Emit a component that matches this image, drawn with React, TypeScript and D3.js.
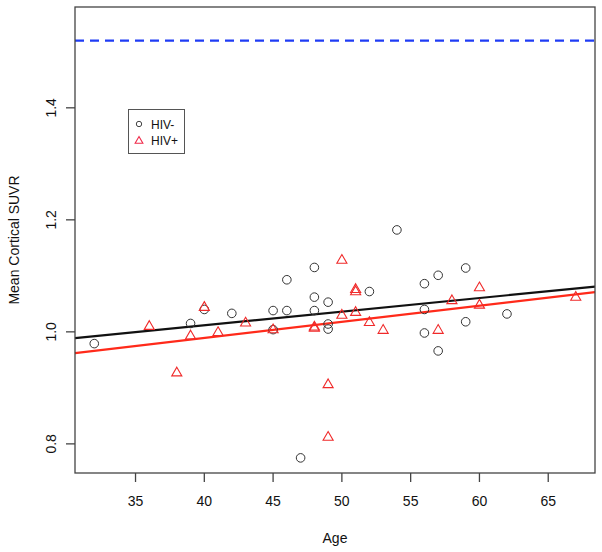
import React, { useEffect, useRef } from 'react';
import * as d3 from 'd3';

// HIV- (circles)
const negAge = [32, 39, 40, 42, 45, 45, 46, 46, 47, 48, 48, 48, 49, 49, 49, 52, 54, 56, 56, 56, 57, 57, 59, 59, 62];
const negSuvr = [0.979, 1.015, 1.040, 1.033, 1.038, 1.004, 1.038, 1.093, 0.775, 1.115, 1.062, 1.038, 1.053, 1.014, 1.005, 1.072, 1.182, 1.086, 1.040, 0.998, 1.101, 0.966, 1.114, 1.018, 1.032];

// HIV+ (triangles)
const posAge = [36, 38, 39, 40, 41, 43, 45, 48, 48, 49, 49, 50, 50, 51, 51, 51, 52, 53, 57, 58, 60, 60, 67];
const posSuvr = [1.011, 0.928, 0.994, 1.045, 1.000, 1.017, 1.005, 1.008, 1.010, 0.907, 0.813, 1.129, 1.031, 1.073, 1.077, 1.036, 1.018, 1.004, 1.004, 1.057, 1.080, 1.049, 1.063];

// regression fits [intercept, slope]
const fitNeg = [0.9142, 0.002437];
const fitPos = [0.8739, 0.00288];

const threshold = 1.52;

const xTicks = [35, 40, 45, 50, 55, 60, 65];
const yTicks = [0.8, 1.0, 1.2, 1.4];
const legendLabels = ['HIV-', 'HIV+'];

const W = 602;
const H = 552;
const font = 'Liberation Sans, Arial, sans-serif';

const App = () => {
  const svgRef = useRef(null);

  useEffect(() => {
    const margin = { top: 7, right: 7, bottom: 79, left: 75 };
    const svg = d3.select(svgRef.current);
    svg.selectAll('*').remove();

    const x = d3.scaleLinear().domain([30.6, 68.4]).range([margin.left, W - margin.right]);
    const y = d3.scaleLinear().domain([0.748, 1.58]).range([H - margin.bottom, margin.top]);
    const [x0, x1] = x.range();
    const [yb, yt] = y.range();

    // threshold
    svg.append('line')
      .attr('x1', x0).attr('x2', x1)
      .attr('y1', y(threshold)).attr('y2', y(threshold))
      .attr('stroke', '#1f3cf5').attr('stroke-width', 2.2)
      .attr('stroke-dasharray', '9,6');

    // fit lines
    const fits = [
      { f: fitNeg, color: '#111' },
      { f: fitPos, color: '#ff2a1a' },
    ];
    fits.forEach(({ f, color }) => {
      const [a, b] = x.domain();
      svg.append('line')
        .attr('x1', x(a)).attr('y1', y(f[0] + f[1] * a))
        .attr('x2', x(b)).attr('y2', y(f[0] + f[1] * b))
        .attr('stroke', color).attr('stroke-width', 2.2);
    });

    // points
    svg.append('g').selectAll('circle')
      .data(negAge)
      .enter()
      .append('circle')
      .attr('cx', (d) => x(d))
      .attr('cy', (d, i) => y(negSuvr[i]))
      .attr('r', 4.3)
      .attr('fill', 'none')
      .attr('stroke', '#333')
      .attr('stroke-width', 1);

    const tri = d3.symbol().type(d3.symbolTriangle).size(44);
    svg.append('g').selectAll('path')
      .data(posAge)
      .enter()
      .append('path')
      .attr('d', tri)
      .attr('transform', (d, i) => `translate(${x(d)},${y(posSuvr[i]) + 0.8})`)
      .attr('fill', 'none')
      .attr('stroke', '#f02a2a')
      .attr('stroke-width', 1.1);

    // box
    svg.append('rect')
      .attr('x', x0).attr('y', yt)
      .attr('width', x1 - x0).attr('height', yb - yt)
      .attr('fill', 'none').attr('stroke', '#444').attr('stroke-width', 1.3);

    // x axis
    const xa = svg.append('g').attr('font-family', font).attr('font-size', 14).attr('fill', '#111');
    xTicks.forEach((t) => {
      xa.append('line').attr('x1', x(t)).attr('x2', x(t)).attr('y1', yb).attr('y2', yb + 9)
        .attr('stroke', '#444').attr('stroke-width', 1.3);
      xa.append('text').attr('x', x(t)).attr('y', 506).attr('text-anchor', 'middle').text(t);
    });
    xa.append('text').attr('x', (x0 + x1) / 2).attr('y', 543).attr('text-anchor', 'middle').text('Age');

    // y axis
    const ya = svg.append('g').attr('font-family', font).attr('font-size', 14).attr('fill', '#111');
    yTicks.forEach((t) => {
      ya.append('line').attr('x1', x0 - 9).attr('x2', x0).attr('y1', y(t)).attr('y2', y(t))
        .attr('stroke', '#444').attr('stroke-width', 1.3);
      ya.append('text')
        .attr('transform', `translate(56,${y(t)}) rotate(-90)`)
        .attr('text-anchor', 'middle')
        .text(d3.format('.1f')(t));
    });
    ya.append('text')
      .attr('transform', `translate(19,${(yt + yb) / 2}) rotate(-90)`)
      .attr('text-anchor', 'middle')
      .text('Mean Cortical SUVR');

    // legend
    const lg = svg.append('g').attr('font-family', font).attr('font-size', 12);
    lg.append('rect').attr('x', 128.5).attr('y', 109.5).attr('width', 56).attr('height', 44)
      .attr('fill', 'white').attr('stroke', '#555').attr('stroke-width', 1);
    lg.append('circle').attr('cx', 139).attr('cy', 124).attr('r', 2.7)
      .attr('fill', 'none').attr('stroke', '#444').attr('stroke-width', 1);
    lg.append('path').attr('d', d3.symbol().type(d3.symbolTriangle).size(26))
      .attr('transform', 'translate(139,141)')
      .attr('fill', 'none').attr('stroke', '#f02a4a').attr('stroke-width', 1.1);
    legendLabels.forEach((l, i) => {
      lg.append('text').attr('x', 151).attr('y', 128.5 + i * 16).attr('fill', '#111').text(l);
    });
  }, []);

  return (
    <svg ref={svgRef} width={W} height={H} style={{ position: 'absolute', left: 0, top: 0, background: 'white' }}></svg>
  );
};

export default App;
